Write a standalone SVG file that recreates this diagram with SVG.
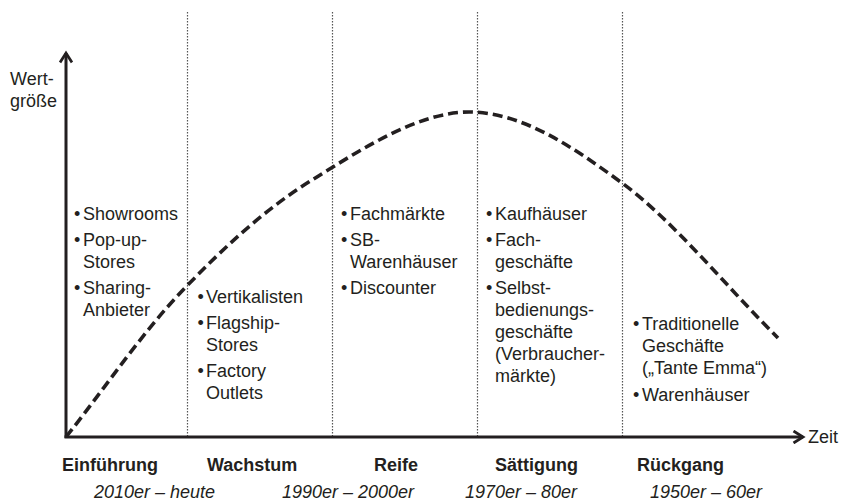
<svg xmlns="http://www.w3.org/2000/svg" width="843" height="501" viewBox="0 0 843 501">
<style>
text{font-family:"Liberation Sans",Arial,sans-serif;font-size:18px;fill:#231f20}
.ph{font-weight:bold}
.yr{font-style:italic}
.div{stroke:#555;stroke-width:1.2;stroke-dasharray:1.5 1.5;fill:none}
.axis{stroke:#231f20;stroke-width:3;fill:none}
.curve{stroke:#231f20;stroke-width:3.6;stroke-dasharray:10 5;fill:none}
</style>
<defs>
<marker id="arr" markerUnits="userSpaceOnUse" viewBox="0 0 14 14" markerWidth="14" markerHeight="14" refX="11" refY="7" orient="auto">
<path d="M1.5,1 L11,7 L1.5,13" fill="none" stroke="#231f20" stroke-width="2.8"/>
</marker>
</defs>
<rect width="843" height="501" fill="#fff"/>
<g id="dividers">
<line class="div" x1="187.5" y1="12" x2="187.5" y2="436"/>
<line class="div" x1="332.5" y1="12" x2="332.5" y2="436"/>
<line class="div" x1="477.5" y1="12" x2="477.5" y2="436"/>
<line class="div" x1="622.5" y1="12" x2="622.5" y2="436"/>
</g>
<g id="connectors">
<line class="axis" x1="66" y1="438" x2="66" y2="53" marker-end="url(#arr)"/>
<line class="axis" x1="64.5" y1="437" x2="803" y2="437" marker-end="url(#arr)"/>
<path class="curve" d="M66,437 C105,388 142,332.8 183,290 C224,247.2 264.2,209.7 312,180 C359.8,150.3 418.3,111.5 470,112 C521.7,112.5 570.7,145.3 622,183 C673.3,220.7 726,286.3 778,338"/>
</g>
<g id="axis-labels">
<text x="10" y="85">Wert-</text>
<text x="10" y="107">größe</text>
<text x="808" y="443">Zeit</text>
</g>
<g id="col-einfuehrung">
<text x="74" y="220">•</text><text x="83" y="220">Showrooms</text>
<text x="74" y="246">•</text><text x="83" y="246">Pop-up-</text>
<text x="83" y="268">Stores</text>
<text x="74" y="294">•</text><text x="83" y="294">Sharing-</text>
<text x="83" y="316">Anbieter</text>
</g>
<g id="col-wachstum">
<text x="197.5" y="303">•</text><text x="206" y="303">Vertikalisten</text>
<text x="197.5" y="329">•</text><text x="206" y="329">Flagship-</text>
<text x="206" y="351">Stores</text>
<text x="197.5" y="377">•</text><text x="206" y="377">Factory</text>
<text x="206" y="399">Outlets</text>
</g>
<g id="col-reife">
<text x="341" y="220">•</text><text x="350" y="220">Fachmärkte</text>
<text x="341" y="246">•</text><text x="350" y="246">SB-</text>
<text x="350" y="268">Warenhäuser</text>
<text x="341" y="294">•</text><text x="350" y="294">Discounter</text>
</g>
<g id="col-saettigung">
<text x="486" y="220">•</text><text x="495" y="220">Kaufhäuser</text>
<text x="486" y="246">•</text><text x="495" y="246">Fach-</text>
<text x="495" y="268">geschäfte</text>
<text x="486" y="294">•</text><text x="495" y="294">Selbst-</text>
<text x="495" y="316">bedienungs-</text>
<text x="495" y="338">geschäfte</text>
<text x="495" y="360">(Verbraucher-</text>
<text x="495" y="382">märkte)</text>
</g>
<g id="col-rueckgang">
<text x="633" y="330">•</text><text x="642" y="330">Traditionelle</text>
<text x="642" y="352">Geschäfte</text>
<text x="642" y="374">(„Tante Emma“)</text>
<text x="633" y="401">•</text><text x="642" y="401">Warenhäuser</text>
</g>
<g id="phases">
<text class="ph" x="62" y="471">Einführung</text>
<text class="ph" x="207" y="471">Wachstum</text>
<text class="ph" x="374" y="471">Reife</text>
<text class="ph" x="495" y="471">Sättigung</text>
<text class="ph" x="637" y="471">Rückgang</text>
</g>
<g id="years">
<text class="yr" x="94" y="498">2010er – heute</text>
<text class="yr" x="282" y="498">1990er – 2000er</text>
<text class="yr" x="465" y="498">1970er – 80er</text>
<text class="yr" x="650" y="498">1950er – 60er</text>
</g>
</svg>
